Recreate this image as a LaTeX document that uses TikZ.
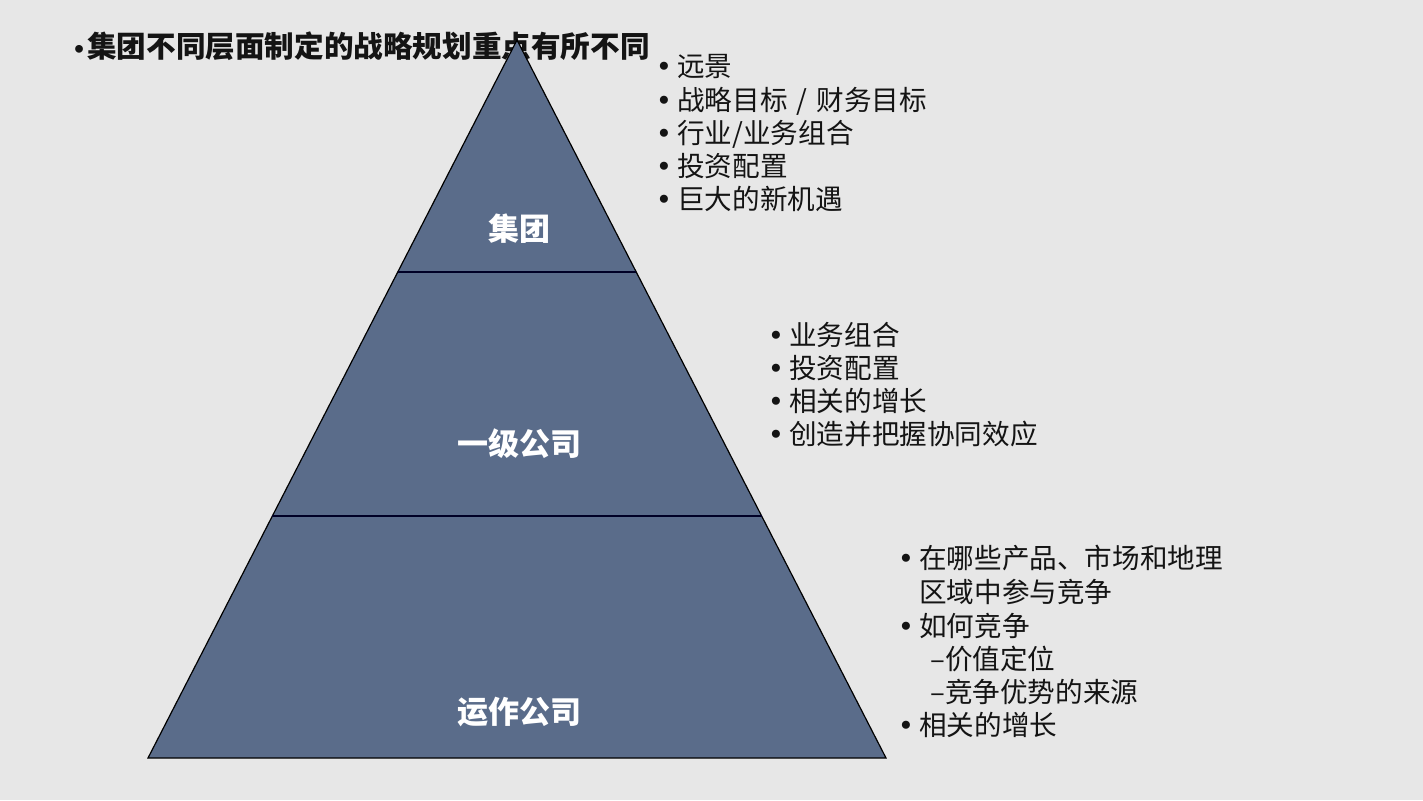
\documentclass[tikz,border=0pt]{standalone}
\usepackage{fontspec}
\setmainfont{Noto Sans CJK SC}
\newfontfamily\dotfont{DejaVu Sans}
\usetikzlibrary{calc}
\usetikzlibrary{positioning}
\definecolor{pyrfill}{RGB}{90,108,138}
\definecolor{slidebg}{RGB}{231,231,231}
\definecolor{ink}{RGB}{20,20,20}
\newcommand\bul{\llap{{\dotfont •}\hspace{5pt}}}
\newcommand\tbul{\llap{{\dotfont\fontsize{22}{22}\selectfont •}\hspace{1pt}}}
\tikzset{
  layer/.style={fill=pyrfill, draw=black, line width=1.2pt, line join=miter},
  cut/.style={draw=black!85!blue, line width=1.4pt},
  tier/.style={anchor=base, inner sep=0pt, text=white, font=\fontsize{31}{31}\selectfont\bfseries},
  item/.style={anchor=base west, inner sep=0pt, text=ink, font=\fontsize{27.6}{33}\selectfont},
  heading/.style={anchor=base west, inner sep=0pt, text=ink, font=\fontsize{29.6}{29.6}\selectfont\bfseries},
}

\begin{document}
\begin{tikzpicture}[x=1pt,y=-1pt]

  % slide background
  \fill[slidebg] (0,0) rectangle (1423,800);
  \useasboundingbox (0,0) rectangle (1423,800);

  % title (the apex runs over it)
  \node[heading] (title) at (87,57) {\tbul 集团不同层面制定的战略规划重点有所不同};

  % pyramid
  \coordinate (apex) at (517,40);
  \coordinate (bl) at (148,758);
  \coordinate (br) at (886,758);
  \draw[layer] (apex) -- (br) -- (bl) -- cycle;
  \draw[cut] ($(apex)!0.3231!(bl)$) -- ($(apex)!0.3231!(br)$);
  \draw[cut] ($(apex)!0.6630!(bl)$) -- ($(apex)!0.6630!(br)$);

  \node[tier] (group) at (519,240) {集团};
  \node[tier] (first) at (519,455) {一级公司};
  \node[tier] (ops) at (519,723) {运作公司};

  % group focus
  \foreach \txt [count=\i] in {远景, 战略目标\hspace{9pt}/\hspace{9pt}财务目标, 行业/业务组合, 投资配置, 巨大的新机遇} {
    \node[item] (g\i) at (677,{44+33*\i}) {\bul\txt};
  }

  % first level focus
  \foreach \txt [count=\i] in {业务组合, 投资配置, 相关的增长, 创造并把握协同效应} {
    \node[item] (f\i) at (789,{312+33*\i}) {\bul\txt};
  }

  % operating company focus
  \node[item] (o1) at (919,568) {\bul 在哪些产品、市场和地理};
  \node[item] (o2) at (919,602) {区域中参与竞争};
  \node[item] (o3) at (919,636) {\bul 如何竞争};
  \node[item] (o4) at (930,669) {–价值定位};
  \node[item] (o5) at (930,702) {–竞争优势的来源};
  \node[item] (o6) at (919,735) {\bul 相关的增长};

\end{tikzpicture}
\end{document}
